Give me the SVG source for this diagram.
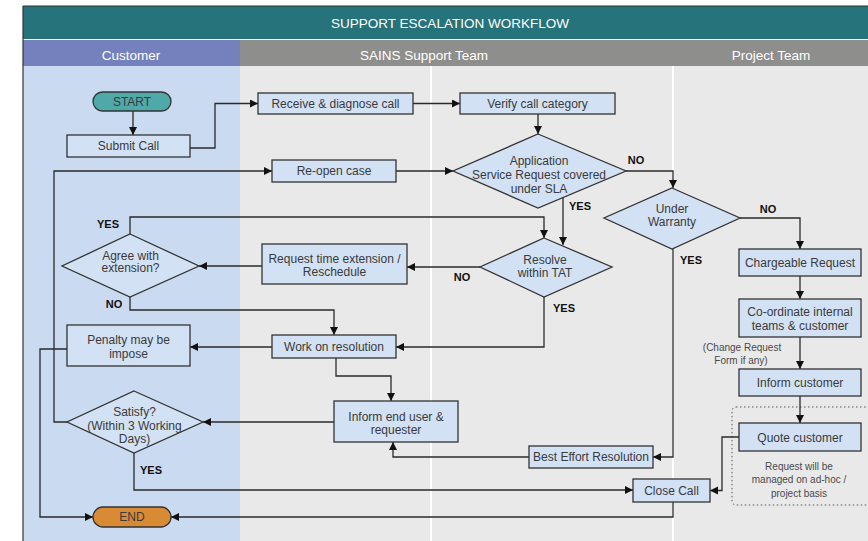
<svg xmlns="http://www.w3.org/2000/svg" width="868" height="541" viewBox="0 0 868 541">
<style>
.t{font-family:"Liberation Sans",Arial,sans-serif;font-size:12px;fill:#3a3a3a;text-anchor:middle;dominant-baseline:central}
.h{font-family:"Liberation Sans",Arial,sans-serif;font-size:13.5px;fill:#ffffff;text-anchor:middle;dominant-baseline:central}
.s{font-family:"Liberation Sans",Arial,sans-serif;font-size:10px;fill:#4a4a4a;text-anchor:middle;dominant-baseline:central}
.l{font-family:"Liberation Sans",Arial,sans-serif;font-size:11px;font-weight:bold;fill:#111;text-anchor:middle;dominant-baseline:central}
.n{fill:#d3e1f4;stroke:#333;stroke-width:1.3}
.c path{fill:none;stroke:#2a2a2a;stroke-width:1.3;marker-end:url(#a)}
</style>
<defs>
<marker id="a" markerUnits="userSpaceOnUse" markerWidth="9" markerHeight="9" refX="8" refY="4" orient="auto">
<path d="M0,0 L8,4 L0,8 z" fill="#111"/>
</marker>
</defs>
<g id="background">
<rect x="23" y="66" width="217" height="475" fill="#c9daf1"/>
<rect x="240" y="66" width="628" height="475" fill="#e9e9e9"/>
<rect x="430" y="66" width="2" height="475" fill="#ffffff"/>
<rect x="672" y="66" width="2" height="475" fill="#ffffff"/>
<rect x="23" y="6" width="845" height="33" fill="#27737c"/>
<line x1="23" y1="6" x2="868" y2="6" stroke="#333" stroke-width="1.2"/>
<rect x="23" y="40" width="217" height="26" fill="#7581bd"/>
<rect x="240" y="40" width="628" height="26" fill="#8e8e8c"/>
<line x1="23" y1="6" x2="23" y2="541" stroke="#333" stroke-width="1.2"/>
<text class="h" x="450" y="23">SUPPORT ESCALATION WORKFLOW</text>
<text class="h" x="131" y="55">Customer</text>
<text class="h" x="424" y="55">SAINS Support Team</text>
<text class="h" x="771" y="55">Project Team</text>
</g>
<g id="adhoc-note">
<rect x="732" y="407" width="138" height="98" rx="4" fill="none" stroke="#555" stroke-width="1" stroke-dasharray="1.5,2.5"/>
<text class="s" x="799" y="466">Request will be</text>
<text class="s" x="799" y="479.5">managed on ad-hoc /</text>
<text class="s" x="799" y="493">project basis</text>
</g>
<g class="c" id="connectors">
<path d="M133,111 V135"/>
<path d="M190,148 H215 V103.5 H258"/>
<path d="M413,103.5 H460"/>
<path d="M538,114 V134"/>
<path d="M396,171 H453"/>
<path d="M67,422 H54 V171 H272"/>
<path d="M626,171 H673 V188"/>
<path d="M740,218 H800 V249"/>
<path d="M800,276 V299"/>
<path d="M800,337 V369"/>
<path d="M800,396 V423"/>
<path d="M739,437 H722 V490.5 H710"/>
<path d="M673,502 V517 H171"/>
<path d="M67,349 H40 V517 H93"/>
<path d="M134,453 V490 H633"/>
<path d="M334,422 H203"/>
<path d="M272,347 H190"/>
<path d="M336,358 V376 H391 V401"/>
<path d="M529,457 H393 V442"/>
<path d="M673,249 V457 H653"/>
<path d="M563,197.5 V245"/>
<path d="M130,234 V217 H544 V238"/>
<path d="M480,267 H407"/>
<path d="M262,266 H199"/>
<path d="M130,297 V310 H334 V335"/>
<path d="M544,297 V347 H396"/>
</g>
<g id="labels">
<text class="l" x="636" y="160">NO</text>
<text class="l" x="580" y="206">YES</text>
<text class="l" x="768" y="209">NO</text>
<text class="l" x="691" y="260">YES</text>
<text class="l" x="108" y="224">YES</text>
<text class="l" x="462" y="277">NO</text>
<text class="l" x="114" y="304">NO</text>
<text class="l" x="564" y="308">YES</text>
<text class="l" x="151" y="470">YES</text>
<text class="s" x="742" y="347.5">(Change Request</text>
<text class="s" x="741" y="360">Form if any)</text>
</g>
<g id="start">
<rect x="93" y="92" width="78" height="19" rx="9.5" fill="#4fa9a9" stroke="#333" stroke-width="1.3"/>
<text class="t" x="132" y="101.5">START</text>
</g>
<g id="submit-call">
<rect class="n" x="67" y="135" width="123" height="22"/>
<text class="t" x="128.5" y="146">Submit Call</text>
</g>
<g id="receive">
<rect class="n" x="258" y="93" width="155" height="21"/>
<text class="t" x="335.5" y="103.5">Receive &amp; diagnose call</text>
</g>
<g id="verify">
<rect class="n" x="460" y="93" width="155" height="21"/>
<text class="t" x="537.5" y="103.5">Verify call category</text>
</g>
<g id="reopen">
<rect class="n" x="272" y="160" width="124" height="22"/>
<text class="t" x="334" y="171">Re-open case</text>
</g>
<g id="sla">
<path class="n" d="M538,134 L626,171 L538,208 L453,171 Z"/>
<text class="t" x="539" y="161">Application</text>
<text class="t" x="539" y="175">Service Request covered</text>
<text class="t" x="539" y="189">under SLA</text>
</g>
<g id="warranty">
<path class="n" d="M672,188 L740,218 L672,249 L604,218 Z"/>
<text class="t" x="672" y="209">Under</text>
<text class="t" x="672" y="221.5">Warranty</text>
</g>
<g id="chargeable">
<rect class="n" x="739" y="249" width="122" height="27"/>
<text class="t" x="800" y="263">Chargeable Request</text>
</g>
<g id="coordinate">
<rect class="n" x="739" y="299" width="122" height="38"/>
<text class="t" x="800" y="312">Co-ordinate internal</text>
<text class="t" x="800" y="326">teams &amp; customer</text>
</g>
<g id="inform-customer">
<rect class="n" x="739" y="369" width="122" height="27"/>
<text class="t" x="800" y="383">Inform customer</text>
</g>
<g id="quote">
<rect class="n" x="739" y="423" width="122" height="28"/>
<text class="t" x="800" y="437.5">Quote customer</text>
</g>
<g id="resolve">
<path class="n" d="M544,238 L612,267 L544,297 L480,267 Z"/>
<text class="t" x="545" y="260">Resolve</text>
<text class="t" x="545" y="272.5">within TAT</text>
</g>
<g id="request-ext">
<rect class="n" x="262" y="244" width="145" height="40"/>
<text class="t" x="334.5" y="258.5">Request time extension /</text>
<text class="t" x="334.5" y="272">Reschedule</text>
</g>
<g id="agree">
<path class="n" d="M130,234 L199,266 L130,297 L62,266 Z"/>
<text class="t" x="130.5" y="255.5">Agree with</text>
<text class="t" x="130.5" y="268">extension?</text>
</g>
<g id="work">
<rect class="n" x="272" y="335" width="124" height="23"/>
<text class="t" x="334" y="346.5">Work on resolution</text>
</g>
<g id="penalty">
<rect class="n" x="67" y="325" width="123" height="41"/>
<text class="t" x="128.5" y="340">Penalty may be</text>
<text class="t" x="128.5" y="354">impose</text>
</g>
<g id="inform-end-user">
<rect class="n" x="334" y="401" width="124" height="41"/>
<text class="t" x="396" y="416.5">Inform end user &amp;</text>
<text class="t" x="396" y="430">requester</text>
</g>
<g id="satisfy">
<path class="n" d="M134,391 L203,422 L134,453 L67,422 Z"/>
<text class="t" x="134.5" y="412">Satisfy?</text>
<text class="t" x="134.5" y="425.5">(Within 3 Working</text>
<text class="t" x="134.5" y="439">Days)</text>
</g>
<g id="best-effort">
<rect class="n" x="529" y="446" width="124" height="22"/>
<text class="t" x="591" y="457">Best Effort Resolution</text>
</g>
<g id="close-call">
<rect class="n" x="633" y="479" width="77" height="23"/>
<text class="t" x="671.5" y="490.5">Close Call</text>
</g>
<g id="end">
<rect x="93" y="507" width="78" height="20" rx="10" fill="#d98a35" stroke="#333" stroke-width="1.3"/>
<text class="t" x="132" y="517">END</text>
</g>
</svg>
